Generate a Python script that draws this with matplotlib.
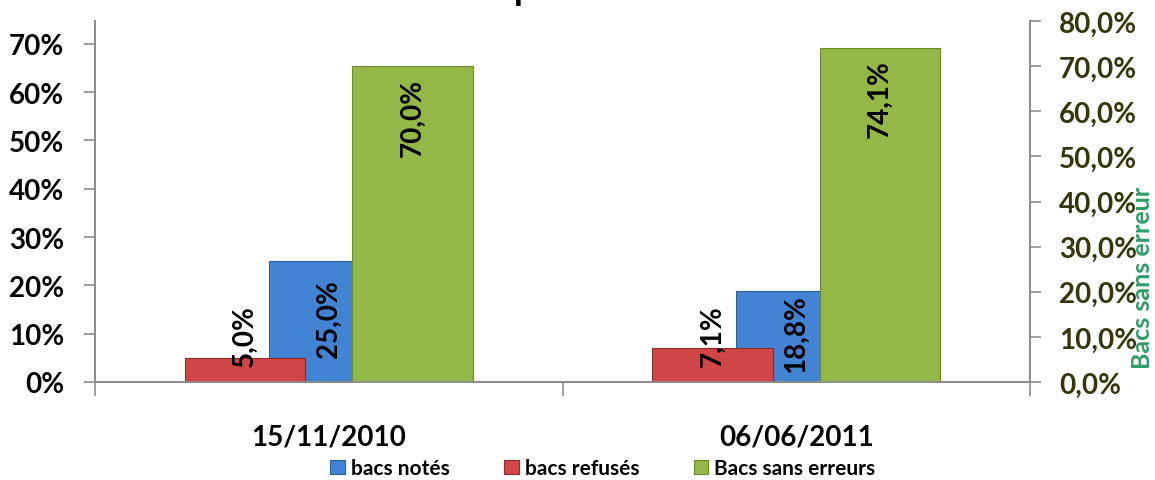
import numpy as np
import matplotlib.pyplot as plt
import matplotlib.transforms as mtransforms

plt.rcParams['font.family'] = ['Lato', 'DejaVu Sans']
plt.rcParams['font.weight'] = 'bold'

# donnees
dates = ['15/11/2010', '06/06/2011']
bacs_notes = [0.250, 0.188]
bacs_refuses = [0.050, 0.071]
bacs_sans_erreurs = [0.700, 0.741]
left_ticks = [0, 0.1, 0.2, 0.3, 0.4, 0.5, 0.6, 0.7]
right_ticks = [0, 0.1, 0.2, 0.3, 0.4, 0.5, 0.6, 0.7, 0.8]
titre = "Evolution de la qualité des bacs contrôlés"

c_bleu, c_bleu_b = '#4383d4', '#2d5f9e'
c_rouge, c_rouge_b = '#d04646', '#8e2a2a'
c_vert, c_vert_b = '#93b848', '#6a8a2c'
gris = '#8c8c8c'

fig = plt.figure(figsize=(11.55, 4.81), dpi=100)
ax = fig.add_axes([95 / 1155, 98 / 481, 935 / 1155, 361 / 481])
ax2 = ax.twinx()

x = np.arange(len(dates))
w = 0.257
off = 0.179

b_bleu = ax.bar(x, bacs_notes, w, color=c_bleu, edgecolor=c_bleu_b, lw=0.8, zorder=2)
b_rouge = ax.bar(x - off, bacs_refuses, w, color=c_rouge, edgecolor=c_rouge_b, lw=0.8, zorder=3)
b_vert = ax2.bar(x + off, bacs_sans_erreurs, w, color=c_vert, edgecolor=c_vert_b, lw=0.8, zorder=2)

ax.set_xlim(-0.5, 1.5)
ax.set_ylim(0, 0.747)
ax2.set_ylim(0, 0.8)

ax.set_yticks(left_ticks)
ax.set_yticklabels([f"{int(round(t * 100))}%" for t in left_ticks],
                   fontsize=20, fontweight='bold')
ax2.set_yticks(right_ticks)
ax2.set_yticklabels([f"{t * 100:.1f}%".replace('.', ',') for t in right_ticks],
                    fontsize=20, fontweight='bold', color='#36360a')

ax.set_xticks([-0.5, 0.5, 1.5])
ax.set_xticklabels([])
ax.set_xticks(x, minor=True)
ax.set_xticklabels(dates, minor=True, fontsize=20, fontweight='bold')
ax.tick_params(axis='x', which='minor', length=0, pad=30)
ax.tick_params(axis='x', which='major', length=10, color=gris, width=1.2)
ax.tick_params(axis='y', length=8, color=gris, width=1.2, pad=14)
ax2.tick_params(axis='y', length=8, color=gris, width=1.2, pad=13)

for a in (ax, ax2):
    a.spines['top'].set_visible(False)
    for s in ('left', 'right', 'bottom'):
        a.spines[s].set_color(gris)
        a.spines[s].set_linewidth(1.3)

ax2.set_ylabel('Bacs sans erreur', color='#2f9c66', fontsize=18, fontweight='bold')
ax2.yaxis.set_label_coords(1.108, 0.29)

# etiquettes de donnees
fmt = lambda v: f"{v * 100:.1f}%".replace('.', ',')
for xi, v in zip(x, bacs_refuses):
    tr = mtransforms.offset_copy(ax.transData, fig=fig, y=16, units='dots')
    ax.text(xi - off, 0, fmt(v), rotation=90, ha='center', va='bottom',
            fontsize=20, fontweight='bold', transform=tr, zorder=5)
for xi, v in zip(x, bacs_notes):
    tr = mtransforms.offset_copy(ax.transData, fig=fig, y=4, units='dots')
    ax.text(xi, v / 2, fmt(v), rotation=90, ha='center', va='center',
            fontsize=20, fontweight='bold', transform=tr, zorder=5)
for xi, v in zip(x, bacs_sans_erreurs):
    tr = mtransforms.offset_copy(ax2.transData, fig=fig, y=-12, units='dots')
    ax2.text(xi + off, v, fmt(v), rotation=90, ha='center', va='top',
             fontsize=20, fontweight='bold', transform=tr, zorder=5)

# titre (coupe en haut comme l'original)
fig.text(0.507, 1 - 6 / 481, titre, ha='center', va='bottom',
         fontsize=26, fontweight='bold')

leg = fig.legend([b_bleu, b_rouge, b_vert],
                 ['bacs notés', 'bacs refusés', 'Bacs sans erreurs'],
                 loc='lower center', bbox_to_anchor=(0.522, -0.035), ncol=3,
                 frameon=False, prop={'size': 15, 'weight': 'bold'},
                 handlelength=0.7, handleheight=0.7,
                 handletextpad=0.3, columnspacing=2.6)

fig.savefig('out.png', dpi=100)
